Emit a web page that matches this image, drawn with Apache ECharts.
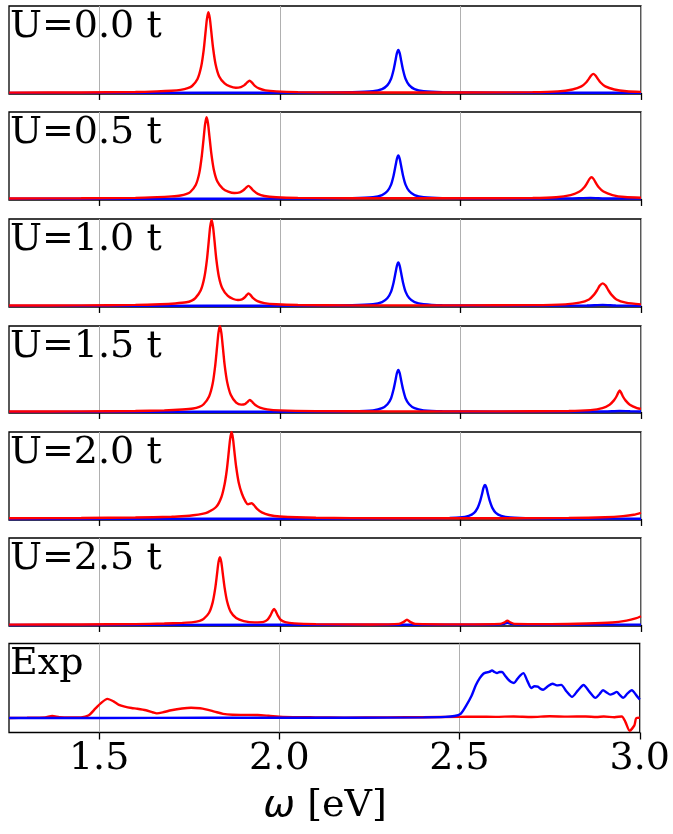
<!DOCTYPE html>
<html><head><meta charset="utf-8">
<script src="https://cdn.jsdelivr.net/npm/echarts@6/dist/echarts.min.js"></script>
<style>html,body{margin:0;padding:0;background:#fff}#c{width:673px;height:834px}</style>
</head><body><div id="c"></div>
<script>
// ---- data ----
const xTicks = [1.5, 2.0, 2.5, 3.0];
const panelLabels = ['U=0.0 t', 'U=0.5 t', 'U=1.0 t', 'U=1.5 t', 'U=2.0 t', 'U=2.5 t', 'Exp'];

const u00Red = [[1.25,0.004],[1.45,0.006],[1.6,0.011],[1.66,0.018],[1.7,0.026],[1.725,0.036],[1.745,0.055],[1.757,0.08],[1.772,0.16],[1.782,0.3],[1.789,0.49],[1.794,0.69],[1.798,0.85],[1.802,0.93],[1.806,0.86],[1.81,0.71],[1.815,0.52],[1.822,0.33],[1.832,0.19],[1.847,0.11],[1.862,0.075],[1.878,0.06],[1.892,0.068],[1.902,0.09],[1.909,0.118],[1.916,0.14],[1.923,0.118],[1.93,0.085],[1.942,0.052],[1.96,0.03],[1.99,0.018],[2.05,0.01],[2.2,0.006],[2.5,0.006],[2.7,0.009],[2.77,0.018],[2.81,0.04],[2.835,0.075],[2.848,0.12],[2.856,0.165],[2.862,0.2],[2.868,0.22],[2.874,0.2],[2.88,0.165],[2.888,0.12],[2.901,0.075],[2.926,0.04],[2.96,0.02],[3.0,0.012]];
const u00Blue = [[1.25,0.001],[1.8,0.002],[2.1,0.004],[2.2,0.008],[2.258,0.019],[2.283,0.044],[2.298,0.09],[2.308,0.163],[2.315,0.267],[2.32,0.37],[2.324,0.455],[2.328,0.495],[2.332,0.455],[2.336,0.37],[2.341,0.267],[2.348,0.163],[2.358,0.09],[2.373,0.044],[2.398,0.019],[2.45,0.008],[2.6,0.004],[3.0,0.002]];

const u05Red = [[1.25,0.006],[1.45,0.008],[1.6,0.013],[1.66,0.021],[1.7,0.03],[1.725,0.04],[1.742,0.058],[1.752,0.08],[1.767,0.16],[1.777,0.3],[1.784,0.5],[1.789,0.7],[1.793,0.86],[1.797,0.94],[1.801,0.87],[1.805,0.72],[1.81,0.53],[1.817,0.34],[1.827,0.2],[1.842,0.12],[1.857,0.085],[1.874,0.068],[1.889,0.075],[1.899,0.1],[1.906,0.128],[1.913,0.15],[1.92,0.128],[1.927,0.095],[1.939,0.058],[1.957,0.034],[1.99,0.02],[2.05,0.012],[2.2,0.008],[2.5,0.008],[2.7,0.011],[2.765,0.02],[2.805,0.045],[2.83,0.085],[2.843,0.135],[2.851,0.185],[2.857,0.228],[2.863,0.25],[2.869,0.228],[2.875,0.185],[2.883,0.135],[2.896,0.085],[2.921,0.045],[2.955,0.022],[3.0,0.014]];
const u05Blue = [[1.25,0.002],[1.8,0.003],[2.1,0.005],[2.2,0.009],[2.258,0.02],[2.283,0.045],[2.298,0.092],[2.308,0.165],[2.315,0.27],[2.32,0.375],[2.324,0.46],[2.328,0.5],[2.332,0.46],[2.336,0.375],[2.341,0.27],[2.348,0.165],[2.358,0.092],[2.373,0.045],[2.398,0.02],[2.45,0.009],[2.6,0.005],[2.8,0.006],[2.86,0.012],[2.9,0.006],[3.0,0.004]];

const u10Red = [[1.25,0.005],[1.45,0.007],[1.6,0.012],[1.67,0.02],[1.71,0.029],[1.741,0.042],[1.756,0.062],[1.766,0.09],[1.781,0.18],[1.791,0.33],[1.798,0.53],[1.803,0.74],[1.807,0.91],[1.811,0.99],[1.815,0.91],[1.819,0.75],[1.824,0.54],[1.831,0.34],[1.841,0.2],[1.856,0.115],[1.871,0.08],[1.884,0.068],[1.895,0.076],[1.903,0.1],[1.908,0.125],[1.913,0.145],[1.919,0.125],[1.926,0.09],[1.938,0.055],[1.957,0.032],[1.99,0.019],[2.05,0.011],[2.2,0.007],[2.5,0.007],[2.7,0.009],[2.79,0.018],[2.83,0.038],[2.856,0.075],[2.87,0.13],[2.879,0.185],[2.886,0.235],[2.894,0.26],[2.902,0.235],[2.909,0.185],[2.918,0.13],[2.932,0.075],[2.958,0.038],[3.0,0.018]];
const u10Blue = [[1.25,0.001],[1.8,0.002],[2.1,0.004],[2.2,0.008],[2.258,0.02],[2.283,0.045],[2.298,0.092],[2.308,0.165],[2.315,0.27],[2.32,0.375],[2.324,0.46],[2.328,0.5],[2.332,0.46],[2.336,0.375],[2.341,0.27],[2.348,0.165],[2.358,0.092],[2.373,0.045],[2.398,0.02],[2.45,0.008],[2.6,0.004],[2.85,0.006],[2.894,0.012],[2.93,0.006],[3.0,0.003]];

const u15Red = [[1.25,0.005],[1.45,0.007],[1.6,0.011],[1.68,0.018],[1.73,0.028],[1.76,0.04],[1.777,0.06],[1.789,0.09],[1.804,0.18],[1.814,0.33],[1.821,0.54],[1.826,0.75],[1.83,0.92],[1.834,1.0],[1.838,0.92],[1.842,0.76],[1.847,0.55],[1.854,0.35],[1.864,0.2],[1.879,0.11],[1.893,0.085],[1.903,0.09],[1.91,0.115],[1.917,0.14],[1.924,0.115],[1.932,0.08],[1.945,0.05],[1.965,0.03],[2.0,0.018],[2.1,0.01],[2.3,0.007],[2.6,0.007],[2.8,0.011],[2.86,0.022],[2.893,0.045],[2.913,0.085],[2.925,0.135],[2.932,0.18],[2.937,0.225],[2.941,0.25],[2.945,0.225],[2.95,0.18],[2.957,0.135],[2.969,0.085],[2.989,0.045],[3.0,0.036]];
const u15Blue = [[1.25,0.001],[1.8,0.002],[2.1,0.004],[2.2,0.008],[2.258,0.019],[2.283,0.044],[2.298,0.09],[2.308,0.16],[2.315,0.265],[2.32,0.365],[2.324,0.45],[2.328,0.49],[2.332,0.45],[2.336,0.365],[2.341,0.265],[2.348,0.16],[2.358,0.09],[2.373,0.044],[2.398,0.019],[2.45,0.008],[2.6,0.004],[2.9,0.006],[2.94,0.012],[2.97,0.008],[3.0,0.006]];

const u20Red = [[1.25,0.008],[1.45,0.011],[1.6,0.016],[1.7,0.025],[1.74,0.034],[1.76,0.042],[1.785,0.058],[1.8,0.075],[1.824,0.14],[1.838,0.25],[1.847,0.4],[1.853,0.56],[1.858,0.75],[1.862,0.91],[1.866,1.0],[1.87,0.93],[1.874,0.78],[1.879,0.6],[1.886,0.42],[1.895,0.29],[1.905,0.2],[1.912,0.168],[1.917,0.175],[1.922,0.18],[1.928,0.16],[1.937,0.115],[1.95,0.075],[1.97,0.045],[2.0,0.028],[2.1,0.014],[2.3,0.008],[2.6,0.008],[2.8,0.012],[2.9,0.02],[2.95,0.032],[2.98,0.048],[3.0,0.07]];
const u20Blue = [[1.25,0.0],[1.8,0.002],[2.2,0.004],[2.4,0.007],[2.47,0.011],[2.498,0.016],[2.523,0.035],[2.538,0.07],[2.548,0.13],[2.555,0.21],[2.56,0.29],[2.564,0.36],[2.568,0.39],[2.572,0.36],[2.576,0.29],[2.581,0.21],[2.588,0.13],[2.598,0.07],[2.613,0.035],[2.638,0.016],[2.7,0.007],[2.85,0.004],[3.0,0.003]];

const u25Red = [[1.25,0.004],[1.45,0.006],[1.6,0.01],[1.68,0.016],[1.73,0.024],[1.76,0.032],[1.778,0.048],[1.789,0.07],[1.804,0.14],[1.814,0.26],[1.821,0.42],[1.826,0.585],[1.83,0.72],[1.834,0.78],[1.838,0.72],[1.842,0.59],[1.847,0.43],[1.854,0.27],[1.864,0.15],[1.879,0.08],[1.9,0.045],[1.93,0.03],[1.955,0.035],[1.966,0.06],[1.974,0.11],[1.979,0.155],[1.984,0.185],[1.989,0.155],[1.994,0.11],[2.002,0.06],[2.015,0.032],[2.04,0.018],[2.1,0.01],[2.25,0.006],[2.33,0.012],[2.343,0.035],[2.352,0.06],[2.361,0.035],[2.375,0.012],[2.5,0.007],[2.61,0.012],[2.622,0.03],[2.63,0.05],[2.638,0.03],[2.65,0.012],[2.75,0.01],[2.85,0.016],[2.92,0.028],[2.96,0.05],[2.985,0.075],[3.0,0.1]];
const u25Blue = [[1.25,0.0],[2.0,0.002],[2.6,0.004],[2.62,0.012],[2.63,0.025],[2.64,0.012],[2.66,0.004],[3.0,0.004]];

const expRed = [[1.25,0.163],[1.3,0.165],[1.35,0.17],[1.37,0.185],[1.39,0.172],[1.42,0.168],[1.45,0.17],[1.47,0.19],[1.49,0.27],[1.505,0.33],[1.523,0.378],[1.54,0.35],[1.555,0.31],[1.571,0.29],[1.59,0.275],[1.606,0.267],[1.63,0.25],[1.65,0.225],[1.66,0.215],[1.68,0.23],[1.7,0.25],[1.73,0.27],[1.755,0.278],[1.78,0.272],[1.796,0.26],[1.82,0.235],[1.844,0.21],[1.87,0.2],[1.9,0.198],[1.94,0.196],[1.97,0.188],[2.01,0.176],[2.1,0.17],[2.18,0.167],[2.3,0.17],[2.4,0.172],[2.5,0.175],[2.55,0.178],[2.6,0.176],[2.65,0.18],[2.7,0.175],[2.75,0.182],[2.8,0.178],[2.85,0.18],[2.88,0.175],[2.9,0.18],[2.93,0.172],[2.95,0.18],[2.96,0.12],[2.972,0.02],[2.985,0.08],[2.99,0.16],[3.0,0.165]];
const expBlue = [[1.25,0.163],[1.5,0.163],[1.8,0.165],[2.0,0.165],[2.2,0.166],[2.4,0.17],[2.46,0.175],[2.486,0.185],[2.503,0.21],[2.518,0.3],[2.533,0.41],[2.545,0.53],[2.556,0.61],[2.566,0.66],[2.574,0.674],[2.582,0.68],[2.59,0.696],[2.597,0.68],[2.604,0.667],[2.611,0.68],[2.618,0.68],[2.626,0.64],[2.634,0.6],[2.642,0.57],[2.651,0.556],[2.66,0.6],[2.668,0.64],[2.677,0.667],[2.688,0.58],[2.699,0.5],[2.708,0.52],[2.717,0.515],[2.725,0.49],[2.732,0.48],[2.745,0.52],[2.758,0.548],[2.77,0.53],[2.782,0.535],[2.797,0.46],[2.812,0.4],[2.828,0.47],[2.844,0.533],[2.86,0.46],[2.877,0.389],[2.888,0.43],[2.898,0.474],[2.908,0.45],[2.918,0.426],[2.928,0.44],[2.936,0.456],[2.945,0.42],[2.954,0.39],[2.966,0.44],[2.978,0.474],[2.99,0.42],[3.0,0.37]];

const redSeries = [u00Red, u05Red, u10Red, u15Red, u20Red, u25Red, expRed];
const blueSeries = [u00Blue, u05Blue, u10Blue, u15Blue, u20Blue, u25Blue, expBlue];

// ---- layout ----
const panelTops = [6, 112, 219, 326, 432, 538, 643.5];
const panelH = [88, 88, 88, 87, 88, 88, 89];
const plotLeft = 9, plotWidth = 632;
const SERIF = '"DejaVu Serif", serif';

const grids = [], xAxes = [], yAxes = [], series = [], graphics = [];
for (let i = 0; i < 7; i++) {
  const last = i === 6;
  grids.push({ left: plotLeft, width: plotWidth, top: panelTops[i], height: panelH[i],
    show: true, borderColor: '#000', borderWidth: 1.3, backgroundColor: 'transparent' });
  xAxes.push({ gridIndex: i, type: 'value', min: 1.25, max: 3.0,
    axisLine: { show: false },
    axisTick: { show: true, customValues: xTicks, length: 7, inside: false, lineStyle: { color: '#000', width: 1.3 } },
    splitLine: { show: true, lineStyle: { color: '#b0b0b0', width: 1 } },
    axisLabel: { show: last, customValues: xTicks, formatter: v => Number(v).toFixed(1),
      fontFamily: SERIF, fontSize: 38, color: '#000', margin: 8 } });
  yAxes.push({ gridIndex: i, type: 'value', min: last ? 0 : -0.012, max: 1, show: false,
    splitLine: { show: false } });
  const redS = { type: 'line', xAxisIndex: i, yAxisIndex: i, data: redSeries[i], showSymbol: false,
    smooth: 0.25, lineStyle: { color: '#ff0000', width: 2.4 }, itemStyle: { color: '#ff0000' }, animation: false, z: last ? 2 : 3 };
  const blueS = { type: 'line', xAxisIndex: i, yAxisIndex: i, data: blueSeries[i], showSymbol: false,
    smooth: 0.25, lineStyle: { color: '#0000ff', width: 2.4 }, itemStyle: { color: '#0000ff' }, animation: false, z: last ? 3 : 2 };
  series.push(blueS, redS);
  graphics.push({ type: 'text', x: 10, y: panelTops[i] + 2, z: 10,
    style: { text: panelLabels[i], font: '38px ' + SERIF, fill: '#000', align: 'left', verticalAlign: 'top' } });
}
graphics.push({ type: 'text', x: plotLeft + plotWidth / 2, y: 806, z: 10,
  style: { text: '{w|ω} {r|[eV]}', align: 'center', verticalAlign: 'middle',
    rich: { w: { fontFamily: '"DejaVu Sans"', fontStyle: 'italic', fontSize: 38, fill: '#000' },
            r: { fontFamily: SERIF, fontSize: 38, fill: '#000' } },
    font: '38px ' + SERIF, fill: '#000' } });

const chart = echarts.init(document.getElementById('c'), null, { renderer: 'canvas' });
chart.setOption({ animation: false, backgroundColor: '#fff',
  grid: grids, xAxis: xAxes, yAxis: yAxes, series: series, graphic: graphics });
</script></body></html>
